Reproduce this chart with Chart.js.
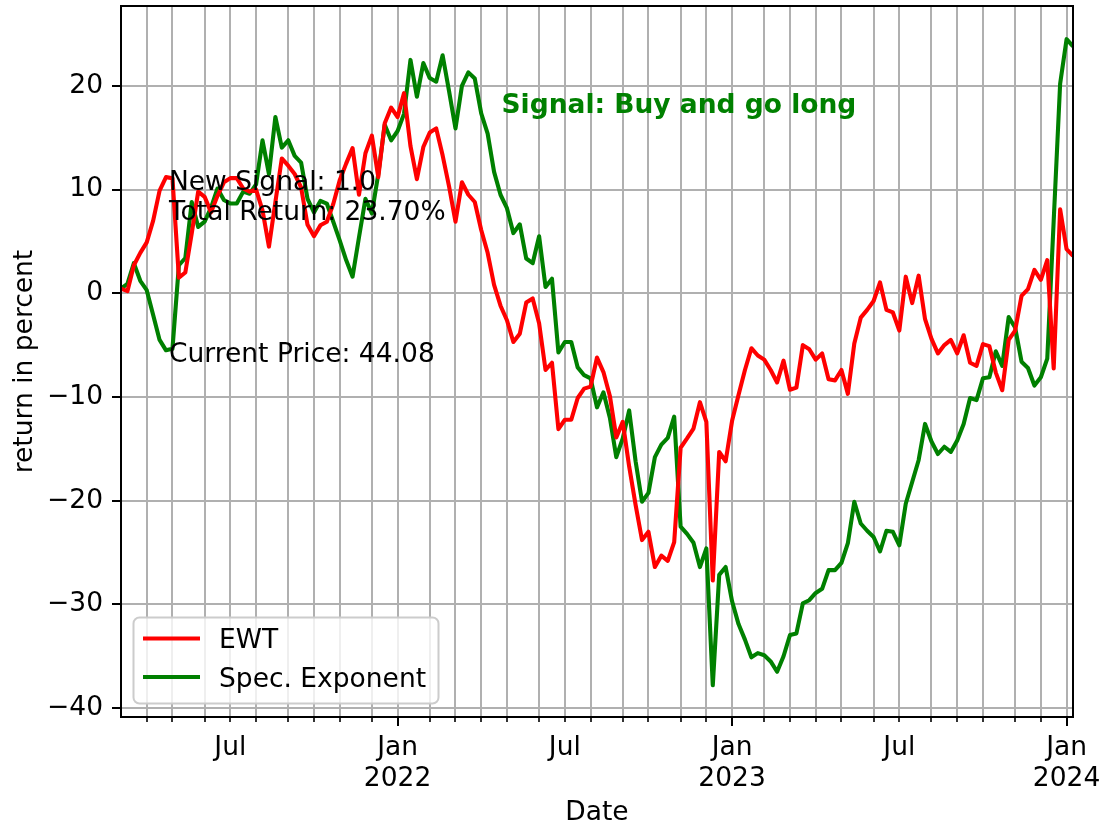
<!DOCTYPE html>
<html>
<head>
<meta charset="utf-8">
<script src="https://cdn.jsdelivr.net/npm/chart.js@4.4.1/dist/chart.umd.min.js"></script>
<style>
html, body { margin: 0; padding: 0; background: #ffffff; }
#wrap { width: 1103px; height: 829px; }
</style>
</head>
<body>
<div id="wrap"><canvas id="c" width="1103" height="829"></canvas></div>
<script>
// Weekly returns (in percent), one value per week starting with the week of 2021-03-08
const ewt = [
  0.45, 0.2, 2.7, 3.9, 4.9, 7.0, 9.9, 11.2, 11.1, 1.5,
  2.0, 5.8, 9.8, 9.3, 7.8, 9.4, 10.7, 11.1, 11.1, 10.1,
  9.8, 10.0, 8.0, 4.5, 8.8, 13.0, 12.3, 11.5, 10.2, 6.6,
  5.5, 6.55, 6.9, 8.6, 10.9, 12.5, 14.0, 9.5, 13.5, 15.2,
  11.2, 16.4, 17.9, 17.0, 19.3, 14.2, 11.0, 14.1, 15.5, 15.9,
  13.3, 10.3, 6.9, 10.7, 9.5, 8.8, 6.1, 3.9, 0.8, -1.2,
  -2.6, -4.7, -3.9, -0.9, -0.5, -2.9, -7.4, -6.7, -13.1, -12.2,
  -12.2, -10.1, -9.2, -9.0, -6.2, -7.6, -9.9, -13.9, -12.4, -16.7,
  -20.4, -23.8, -23.0, -26.4, -25.3, -25.8, -24.0, -14.9, -14.0, -13.05,
  -10.5, -12.4, -27.7, -15.3, -16.2, -12.3, -9.8, -7.4, -5.3, -6.0,
  -6.4, -7.4, -8.6, -6.5, -9.3, -9.1, -5.0, -5.4, -6.4, -5.8,
  -8.3, -8.4, -7.4, -9.7, -4.85, -2.35, -1.6, -0.75, 1.05, -1.6,
  -1.85, -3.6, 1.6, -0.95, 1.7, -2.5, -4.4, -5.8, -5.0, -4.5,
  -5.8, -4.05, -6.7, -7.0, -4.9, -5.1, -7.65, -9.35, -4.5, -3.6,
  -0.25, 0.4, 2.25, 1.3, 3.2, -7.25, 8.1, 4.25, 3.6
];
const specExponent = [
  0.45, 0.9, 2.9, 1.2, 0.3, -2.1, -4.5, -5.5, -5.35, 2.7,
  3.4, 8.8, 6.4, 6.9, 8.25, 10.1, 9.0, 8.65, 8.65, 9.8,
  9.6, 10.5, 14.75, 11.5, 17.0, 14.05, 14.75, 13.25, 12.6, 9.1,
  7.8, 8.9, 8.65, 6.9, 5.1, 3.2, 1.6, 5.4, 9.1, 7.7,
  11.5, 16.25, 14.75, 15.65, 17.3, 22.5, 18.95, 22.2, 20.75, 20.4,
  22.95, 19.5, 15.9, 20.0, 21.3, 20.7, 17.35, 15.4, 11.7, 9.5,
  8.2, 5.8, 6.65, 3.35, 2.9, 5.5, 0.6, 1.4, -5.7, -4.7,
  -4.7, -7.15, -7.9, -8.2, -11.0, -9.55, -12.0, -15.8, -14.0, -11.3,
  -16.2, -20.1, -19.25, -15.8, -14.6, -13.95, -11.9, -22.5, -23.2, -24.05,
  -26.4, -24.6, -37.8, -27.15, -26.4, -29.7, -31.9, -33.4, -35.1, -34.7,
  -34.9, -35.5, -36.5, -35.0, -32.95, -32.8, -29.9, -29.6, -28.9, -28.5,
  -26.7, -26.7, -26.0, -24.1, -20.1, -22.2, -22.9, -23.5, -24.9, -22.9,
  -23.0, -24.3, -20.3, -18.2, -16.1, -12.6, -14.3, -15.5, -14.8, -15.3,
  -14.2, -12.6, -10.1, -10.3, -8.2, -8.1, -5.6, -7.0, -2.3, -3.3,
  -6.6, -7.2, -8.9, -8.1, -6.3, 7.0, 20.2, 24.5, 23.8
];
// x axis (week index): first week of each month, labelled weeks, year starts
const monthTickWeeks = [4, 8, 13, 17, 21, 26, 30, 34, 39, 43, 48, 52, 56, 60, 65, 69, 73, 78, 82, 87, 91, 95,
                        100, 104, 108, 112, 117, 121, 126, 130, 134, 139, 143, 147];
const labelWeeks = [17, 43, 69, 95, 121, 147];
const labelTexts = [['Jul'], ['Jan', '2022'], ['Jul'], ['Jan', '2023'], ['Jul'], ['Jan', '2024']];
const majorTickWeeks = [43, 95, 147];
const yTickValues = [-40, -30, -20, -10, 0, 10, 20];
const seriesNames = ['EWT', 'Spec. Exponent'];
const seriesColors = ['#ff0000', '#008000'];
const annotationLines = ['New Signal: 1.0', 'Total Return: 23.70%'];
const priceText = 'Current Price: 44.08';
const signalText = 'Signal: Buy and go long';

const X_MIN = 0, X_MAX = ewt.length - 1;
const Y_MIN = -40.86, Y_MAX = 27.7;
const FONT = "'DejaVu Sans', 'Liberation Sans', sans-serif";
const FS = 26.5;
const LW = 4.1;

function noEdgePadding(s) {
  s.paddingLeft = 0; s.paddingRight = 0; s.paddingTop = 0; s.paddingBottom = 0;
}

const framePlugin = {
  id: 'frame',
  afterDatasetsDraw(chart) {
    const { ctx, chartArea: a } = chart;
    const xs = chart.scales.x, ys = chart.scales.y;
    ctx.save();
    // annotations
    ctx.fillStyle = '#000000';
    ctx.font = FS + 'px ' + FONT;
    ctx.textAlign = 'left';
    ctx.textBaseline = 'alphabetic';
    const ax = xs.getPixelForValue(7.45);
    ctx.fillText(annotationLines[0], ax, ys.getPixelForValue(10) + 0.3);
    ctx.fillText(annotationLines[1], ax, ys.getPixelForValue(10) + 30.3);
    ctx.fillText(priceText, ax, ys.getPixelForValue(-6.6));
    ctx.fillStyle = '#008000';
    ctx.font = 'bold ' + FS + 'px ' + FONT;
    ctx.fillText(signalText, a.left + 0.40 * (a.right - a.left) - 0.3, a.top + 106.5);
    // frame
    ctx.strokeStyle = '#000000';
    ctx.lineWidth = 2;
    ctx.strokeRect(a.left, a.top, a.right - a.left, a.bottom - a.top);
    // major ticks
    majorTickWeeks.forEach(w => {
      const px = Math.round(xs.getPixelForValue(w));
      ctx.beginPath();
      ctx.moveTo(px, a.bottom);
      ctx.lineTo(px, a.bottom + 9);
      ctx.stroke();
    });
    ctx.restore();
  },
  afterDraw(chart) {
    const { ctx } = chart;
    ctx.save();
    // legend
    const bx = 133.5, by = 617.5, bw = 305, bh = 86, r = 6;
    ctx.beginPath();
    ctx.roundRect(bx, by, bw, bh, r);
    ctx.fillStyle = 'rgba(255,255,255,0.8)';
    ctx.fill();
    ctx.strokeStyle = '#cccccc';
    ctx.lineWidth = 2;
    ctx.stroke();
    ctx.font = FS + 'px ' + FONT;
    ctx.textAlign = 'left';
    ctx.textBaseline = 'alphabetic';
    chart.data.datasets.forEach((ds, k) => {
      const yy = 638.5 + k * 38.5;
      ctx.strokeStyle = ds.borderColor;
      ctx.lineWidth = LW;
      ctx.beginPath();
      ctx.moveTo(143, yy);
      ctx.lineTo(200, yy);
      ctx.stroke();
      ctx.fillStyle = '#000000';
      ctx.fillText(ds.label, 219, yy + 9.8);
    });
    ctx.restore();
  }
};

const ctx = document.getElementById('c').getContext('2d');
new Chart(ctx, {
  type: 'line',
  data: {
    datasets: [ewt, specExponent].map((arr, k) => ({
      label: seriesNames[k],
      data: arr.map((v, i) => ({ x: i, y: v })),
      borderColor: seriesColors[k],
      backgroundColor: seriesColors[k],
      borderWidth: LW,
      borderJoinStyle: 'round',
      pointRadius: 0,
      tension: 0,
      fill: false
    }))
  },
  options: {
    responsive: false,
    animation: false,
    devicePixelRatio: 1,
    layout: { padding: { left: 0, top: 6, right: 30, bottom: 0 } },
    plugins: { legend: { display: false }, tooltip: { enabled: false } },
    scales: {
      x: {
        type: 'linear',
        position: 'bottom',
        min: X_MIN,
        max: X_MAX,
        afterBuildTicks: s => { s.ticks = [X_MIN, ...monthTickWeeks, X_MAX].map(v => ({ value: v })); },
        afterFit: s => { s.height = 112; noEdgePadding(s); },
        ticks: {
          autoSkip: false, maxRotation: 0, minRotation: 0, padding: 10, color: '#000000',
          font: { family: FONT, size: FS, lineHeight: 1.18 },
          callback: (v) => {
            if (v === X_MIN || v === X_MAX) return null;
            const k = labelWeeks.indexOf(v);
            return k >= 0 ? labelTexts[k] : '';
          }
        },
        grid: { color: '#b0b0b0', lineWidth: 2, tickLength: 5, tickColor: '#000000', tickWidth: 1.6, drawTicks: true },
        border: { display: true, color: '#000000', width: 2 },
        title: { display: true, text: 'Date', color: '#000000', font: { family: FONT, size: FS, lineHeight: 1.2 }, padding: { top: 0, bottom: 0 } }
      },
      y: {
        type: 'linear',
        min: Y_MIN,
        max: Y_MAX,
        afterBuildTicks: s => { s.ticks = [Y_MIN, ...yTickValues, Y_MAX].map(v => ({ value: v })); },
        afterFit: s => { s.width = 121; noEdgePadding(s); },
        ticks: {
          padding: 9, color: '#000000',
          font: { family: FONT, size: FS, lineHeight: 1.2 },
          callback: (v) => (v === Y_MIN || v === Y_MAX) ? null : String(v).replace('-', '\u2212')
        },
        grid: { color: '#b0b0b0', lineWidth: 2, tickLength: 9, tickColor: '#000000', tickWidth: 2, drawTicks: true },
        border: { display: true, color: '#000000', width: 2 },
        title: { display: true, text: 'return in percent', color: '#000000', font: { family: FONT, size: FS, lineHeight: 1.2 }, padding: { top: 9, bottom: 0 } }
      }
    }
  },
  plugins: [framePlugin]
});
</script>
</body>
</html>
